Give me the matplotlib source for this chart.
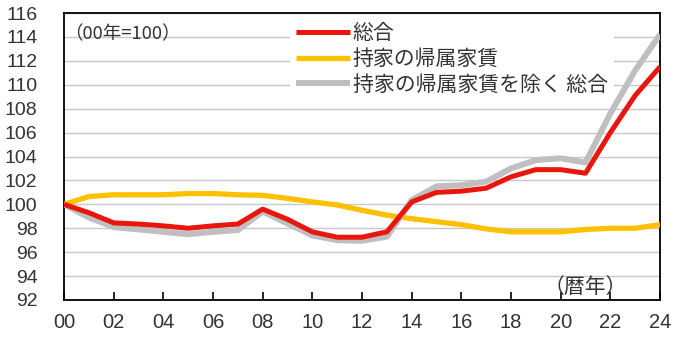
import numpy as np
import matplotlib.pyplot as plt

## данные (индекс, 2000 = 100)
years = list(range(0, 25))
year_labels = ['00', '02', '04', '06', '08', '10', '12', '14', '16', '18', '20', '22', '24']

sogo = [100, 99.3, 98.45, 98.35, 98.2, 98.0, 98.2, 98.35, 99.6, 98.75, 97.7, 97.25, 97.25,
        97.7, 100.2, 101.0, 101.1, 101.35, 102.3, 102.9, 102.9, 102.6, 106.0, 109.1, 111.5]
kizoku = [100, 100.65, 100.8, 100.8, 100.8, 100.9, 100.9, 100.8, 100.75, 100.5, 100.2, 99.95, 99.5,
          99.1, 98.8, 98.55, 98.3, 97.95, 97.7, 97.7, 97.7, 97.9, 98.0, 98.0, 98.3]
jogai = [100, 98.9, 98.1, 97.9, 97.7, 97.5, 97.7, 97.85, 99.4, 98.4, 97.4, 97.0, 96.95,
         97.3, 100.35, 101.5, 101.6, 101.9, 103.0, 103.7, 103.85, 103.5, 107.6, 111.2, 114.2]

names = ['総合', '持家の帰属家賃', '持家の帰属家賃を除く 総合']
colors = ['#E8160C', '#FFC000', '#BFBFBF']

jp = ['Noto Sans CJK JP', 'DejaVu Sans']

fig = plt.figure(figsize=(6.8, 3.4), dpi=100)
ax = fig.add_axes([64 / 680, 40 / 340, 596 / 680, 287 / 340])

## линии
l2, = ax.plot(years, kizoku, color=colors[1], lw=3.8, solid_capstyle='butt', zorder=3)
l3, = ax.plot(years, jogai, color=colors[2], lw=4.3, solid_capstyle='butt', zorder=4)
l1, = ax.plot(years, sogo, color=colors[0], lw=3.6, solid_capstyle='butt', zorder=5)

ax.set_xlim(0, 24)
ax.set_ylim(92, 116)
ax.set_yticks(np.arange(92, 117, 2))
ax.set_xticks(np.arange(0, 25, 2))
ax.set_xticklabels(year_labels)
ax.grid(axis='y', color='#C8C8C8', lw=1.0, zorder=0)
ax.set_axisbelow(True)

for s in ax.spines.values():
    s.set_color('black')
    s.set_linewidth(1.3)

ax.tick_params(axis='y', length=0, pad=19, labelsize=14)
ax.tick_params(axis='x', direction='in', length=6, width=1.2, pad=9, labelsize=14.5)
for t in ax.get_xticklabels() + ax.get_yticklabels():
    t.set_fontfamily('Liberation Sans')
    t.set_color('#333333')

## подписи
ax.text(0.0, 114.25, '（00年=100）', family=jp, fontsize=13.3, va='center', ha='left', color='#333333')
ax.text(19.3, 93.05, '（暦年）', family=jp, fontsize=15, va='center', ha='left', color='#333333')

leg = ax.legend([l1, l2, l3], names, loc='upper left', bbox_to_anchor=(226 / 596, 1 - 3 / 287),
                prop={'family': jp, 'size': 15}, frameon=True, fancybox=False,
                handlelength=2.6, handletextpad=0.12, labelspacing=0.17, borderpad=0.3,
                borderaxespad=0)
leg.get_frame().set_facecolor('white')
leg.get_frame().set_edgecolor('none')
leg.get_frame().set_alpha(1)
leg.set_zorder(6)
for t in leg.get_texts():
    t.set_color('#333333')

plt.savefig('out.png', dpi=100)
